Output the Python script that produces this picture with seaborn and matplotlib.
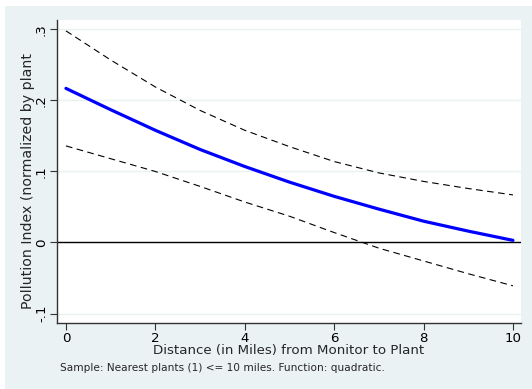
import numpy as np
import pandas as pd
import matplotlib
matplotlib.use("Agg")
import matplotlib.pyplot as plt
import seaborn as sns
from matplotlib.patches import Rectangle

# ---- data ----
distance = [0, 1, 2, 3, 4, 5, 6, 7, 8, 9, 10]
fit = [0.217, 0.187, 0.158, 0.131, 0.107, 0.085, 0.065, 0.047, 0.030, 0.016, 0.003]
upper = [0.298, 0.257, 0.219, 0.186, 0.158, 0.135, 0.114, 0.098, 0.086, 0.076, 0.067]
lower = [0.136, 0.118, 0.100, 0.079, 0.057, 0.037, 0.014, -0.008, -0.026, -0.044, -0.061]
x_ticks = [0, 2, 4, 6, 8, 10]
x_tick_labels = ["0", "2", "4", "6", "8", "10"]
y_ticks = [-0.1, 0, 0.1, 0.2, 0.3]
y_tick_labels = ["-.1", "0", ".1", ".2", ".3"]
x_label = "Distance (in Miles) from Monitor to Plant"
y_label = "Pollution Index (normalized by plant"
note = "Sample: Nearest plants (1) <= 10 miles. Function: quadratic."

df = pd.DataFrame({"distance": distance, "fit": fit, "upper": upper, "lower": lower})

sns.set_theme(style="white")
plt.rcParams["font.family"] = ["DejaVu Sans"]

BG = "#EAF2F3"
W, H = 532, 389
fig = plt.figure(figsize=(W / 100, H / 100), dpi=100, facecolor=BG)
# white border strips on left and top
fig.patches.append(Rectangle((0, 0), 5 / W, 1, transform=fig.transFigure, facecolor="white", edgecolor="none", zorder=0))
fig.patches.append(Rectangle((0, 1 - 6 / H), 1, 6 / H, transform=fig.transFigure, facecolor="white", edgecolor="none", zorder=0))

ax = fig.add_axes([57 / W, 1 - 323.3 / H, (521 - 57) / W, (323.3 - 19.5) / H])
ax.set_facecolor("white")

for yt in y_ticks:
    ax.axhline(yt, color=BG, lw=1.0, zorder=0)
ax.axhline(0, color="black", lw=1.0, zorder=1)

sns.lineplot(data=df, x="distance", y="upper", ax=ax, color="black", lw=0.8,
             dashes=False, linestyle=(0, (6, 4)), zorder=2)
sns.lineplot(data=df, x="distance", y="lower", ax=ax, color="black", lw=0.8,
             dashes=False, linestyle=(0, (6, 4)), zorder=2)
sns.lineplot(data=df, x="distance", y="fit", ax=ax, color="#0000FF", lw=2.3, zorder=3)

ax.set_xlim(-0.2, 10.18)
ax.set_ylim(-0.1138, 0.3140)
ax.set_xticks(x_ticks)
ax.set_xticklabels(x_tick_labels, fontsize=9.6)
ax.set_yticks(y_ticks)
ax.set_yticklabels(y_tick_labels, fontsize=9.6, rotation=90, va="center")

for s in ["top", "right"]:
    ax.spines[s].set_visible(False)
for s in ["left", "bottom"]:
    ax.spines[s].set_color("#333333")
    ax.spines[s].set_linewidth(1.0)

ax.tick_params(axis="both", which="major", direction="out", length=5, width=0.8,
               color="#333333", labelcolor="black", pad=1.5, bottom=True, left=True)

ax.set_xlabel(x_label, fontsize=9.6, labelpad=-1)
ax.set_ylabel(y_label, fontsize=10.2, labelpad=0)
ax.yaxis.set_label_coords(-(57 - 35) / (521 - 57), 0.47)

fig.text(60 / W, 1 - 368 / H, note, fontsize=7.6, ha="left", va="center")

fig.savefig("out.png", dpi=100, facecolor=BG)
